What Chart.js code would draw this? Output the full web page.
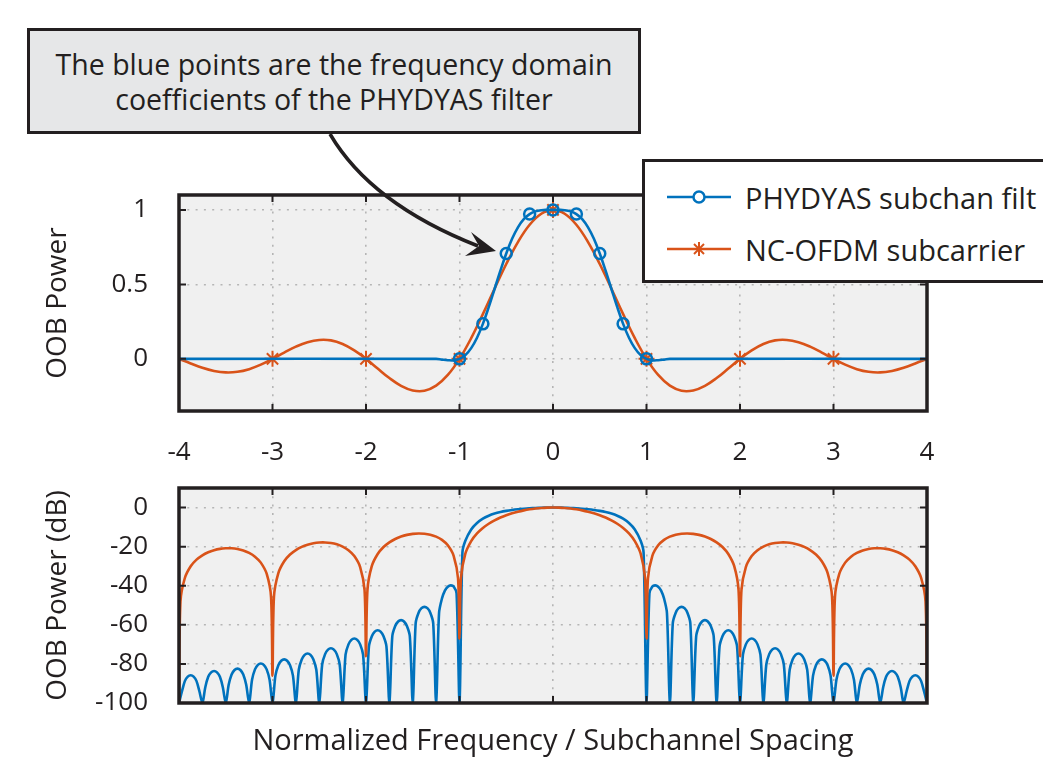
<!DOCTYPE html>
<html>
<head>
<meta charset="utf-8">
<script src="https://cdn.jsdelivr.net/npm/chart.js@4.4.0/dist/chart.umd.min.js"></script>
<style>
  body { margin: 0; background: #fff; }
  #page { position: relative; width: 1043px; height: 761px; overflow: hidden; font-family: "Open Sans", sans-serif; color: #231f20; }
  canvas { position: absolute; left: 0; }
  #cTop { top: 0; }
  #cDb { top: 470px; }
  .note { position: absolute; left: 27px; top: 28px; width: 608px; height: 84px; border: 3px solid #231f20;
          background: #e6e7e8; text-align: center; font-size: 28.5px; line-height: 35px; padding-top: 16px; }
  .legend { position: absolute; left: 642px; top: 159px; width: 420px; height: 118px; border: 3px solid #231f20; background: #fff; }
  .legend .row { position: absolute; left: 0; height: 40px; display: flex; align-items: center; font-size: 29px; white-space: nowrap; }
  .legend svg { margin-left: 22px; margin-right: 14px; flex: none; }
  #arrow { position: absolute; left: 0; top: 0; pointer-events: none; }
</style>
</head>
<body>
<div id="page">
  <canvas id="cTop" width="1043" height="470"></canvas>
  <canvas id="cDb" width="1043" height="291"></canvas>
  <div class="note">The blue points are the frequency domain<br>coefficients of the PHYDYAS filter</div>
  <div class="legend">
    <div class="row" style="top:15px">
      <svg width="64" height="20"><line x1="0" y1="10" x2="64" y2="10" stroke="#0072BD" stroke-width="2.5"/><circle cx="32" cy="10" r="5.5" fill="#fff" stroke="#0072BD" stroke-width="2.5"/></svg>
      <span>PHYDYAS subchan filt</span>
    </div>
    <div class="row" style="top:67px">
      <svg width="64" height="20"><line x1="0" y1="10" x2="64" y2="10" stroke="#D95319" stroke-width="2.5"/>
        <g stroke="#D95319" stroke-width="2"><line x1="25" y1="10" x2="39" y2="10"/><line x1="32" y1="3" x2="32" y2="17"/><line x1="27" y1="5" x2="37" y2="15"/><line x1="37" y1="5" x2="27" y2="15"/></g></svg>
      <span>NC-OFDM subcarrier</span>
    </div>
  </div>
  <svg id="arrow" width="1043" height="761">
    <path d="M330 134 Q371 204 478 246" fill="none" stroke="#231f20" stroke-width="3.5"/>
    <polygon points="496,251 471,232 479,246 465,256" fill="#231f20"/>
  </svg>
</div>
<script>
// ---------- axis ticks ----------
const xTicks = [-4, -3, -2, -1, 0, 1, 2, 3, 4];
const linTicks = [0, 0.5, 1];
const dbTicks = [-100, -80, -60, -40, -20, 0];

// x grids (samples per unit)
function grid(from, to, perUnit) {
  const out = [];
  for (let i = Math.round(from * perUnit); i <= Math.round(to * perUnit); i++) out.push(i / perUnit);
  return out;
}

// ---------- top panel: OOB power (linear) ----------
const ofdmLinX = grid(-4, 4, 8);
const ofdmLinY = [
  0, -0.031, -0.060, -0.081, -0.091, -0.087, -0.069, -0.039,
  0, 0.042, 0.082, 0.112, 0.127, 0.124, 0.100, 0.057,
  0, -0.065, -0.129, -0.181, -0.212, -0.214, -0.180, -0.108,
  0, 0.139, 0.300, 0.471, 0.637, 0.784, 0.900, 0.974,
  1,
  0.974, 0.900, 0.784, 0.637, 0.471, 0.300, 0.139, 0,
  -0.108, -0.180, -0.214, -0.212, -0.181, -0.129, -0.065, 0,
  0.057, 0.100, 0.124, 0.127, 0.112, 0.082, 0.042, 0,
  -0.039, -0.069, -0.087, -0.091, -0.081, -0.060, -0.031, 0
];
const phyLinX = [-4, ...grid(-1.25, 1.25, 16), 4];
const phyLinY = [
  0,
  0, -0.005, -0.009, -0.010, 0, 0.025, 0.072, 0.142, 0.235, 0.347, 0.469, 0.592, 0.707, 0.806, 0.883, 0.938, 0.972, 0.990, 0.998, 1.000,
  1,
  1.000, 0.998, 0.990, 0.972, 0.938, 0.883, 0.806, 0.707, 0.592, 0.469, 0.347, 0.235, 0.142, 0.072, 0.025, 0, -0.010, -0.009, -0.005, 0,
  0
];
// marker positions: filter coefficients / subcarrier zero crossings
const phyMarkX = [-1, -0.75, -0.5, -0.25, 0, 0.25, 0.5, 0.75, 1];
const ofdmMarkX = [-3, -2, -1, 0, 1, 2, 3];

// ---------- bottom panel: OOB power (dB) ----------
const ofdmDbX = grid(-4, 4, 16);
const ofdmDbY = [
  -100, -36.04, -30.05, -26.67, -24.43, -22.88, -21.82, -21.15, -20.83, -20.84, -21.20, -21.95, -23.19, -25.12, -28.18, -33.86,
  -86, -33.50, -27.46, -24.03, -21.74, -20.13, -19.01, -18.29, -17.90, -17.85, -18.15, -18.83, -20.00, -21.85, -24.83, -30.43,
  -76, -29.88, -23.75, -20.21, -17.81, -16.09, -14.85, -13.99, -13.47, -13.26, -13.40, -13.91, -14.89, -16.54, -19.31, -24.67,
  -67, -23.58, -17.13, -13.25, -10.46, -8.29, -6.55, -5.11, -3.92, -2.93, -2.11, -1.44, -0.91, -0.51, -0.22, -0.06,
  0,
  -0.06, -0.22, -0.51, -0.91, -1.44, -2.11, -2.93, -3.92, -5.11, -6.55, -8.29, -10.46, -13.25, -17.13, -23.58, -67,
  -24.67, -19.31, -16.54, -14.89, -13.91, -13.40, -13.26, -13.47, -13.99, -14.85, -16.09, -17.81, -20.21, -23.75, -29.88, -76,
  -30.43, -24.83, -21.85, -20.00, -18.83, -18.15, -17.85, -17.90, -18.29, -19.01, -20.13, -21.74, -24.03, -27.46, -33.50, -86,
  -33.86, -28.18, -25.12, -23.19, -21.95, -21.20, -20.84, -20.83, -21.15, -21.82, -22.88, -24.43, -26.67, -30.05, -36.04, -100
];
// extra samples right beside the subcarrier nulls (keeps the dips narrow)
const ofdmNearNullX = [-3.984375, -3.015625, -2.984375, -2.015625, -1.984375, -1.015625, -0.984375,
                       0.984375, 1.015625, 1.984375, 2.015625, 2.984375, 3.015625, 3.984375];
const ofdmNearNullY = [-48.1, -45.7, -45.6, -42.2, -42.1, -36.3, -36.0,
                       -36.0, -36.3, -42.1, -42.2, -45.6, -45.7, -48.1];

const phyDbX = [...grid(-4, -1, 32), -0.96875, ...grid(-0.9375, 0.9375, 16), 0.96875, ...grid(1, 4, 32)];
const phyDbY = [
  -100, -94.1, -88.8, -86.5, -85.8, -86.5, -88.8, -94.1,
  -100, -91.9, -86.6, -84.3, -83.6, -84.3, -86.6, -91.9,
  -100, -90.7, -85.4, -83.1, -82.4, -83.1, -85.4, -90.7,
  -100, -88.1, -82.8, -80.5, -79.8, -80.5, -82.8, -88.1,
  -100, -86.0, -80.7, -78.4, -77.7, -78.4, -80.7, -86.0,
  -100, -83.0, -77.7, -75.4, -74.7, -75.4, -77.7, -83.0,
  -100, -80.3, -75.0, -72.7, -72.0, -72.7, -75.0, -80.3,
  -100, -75.3, -70.0, -67.7, -67.0, -67.7, -70.0, -75.3,
  -100, -71.1, -65.8, -63.5, -62.8, -63.5, -65.8, -71.1,
  -100, -65.9, -60.6, -58.3, -57.6, -58.3, -60.6, -65.9,
  -100, -59.1, -53.8, -51.5, -50.8, -51.5, -53.8, -59.1,
  -100, -54.0, -46.5, -42.5, -40.5, -39.8, -40.4, -44.0,
  -100,
  -23.0, -17.0, -11.2, -7.9, -5.7, -4.2, -3.1, -2.3, -1.7, -1.25, -0.9, -0.62, -0.4, -0.22, -0.1, -0.03,
  0,
  -0.03, -0.1, -0.22, -0.4, -0.62, -0.9, -1.25, -1.7, -2.3, -3.1, -4.2, -5.7, -7.9, -11.2, -17.0, -23.0,
  -100,
  -44.0, -40.4, -39.8, -40.5, -42.5, -46.5, -54.0, -100,
  -59.1, -53.8, -51.5, -50.8, -51.5, -53.8, -59.1, -100,
  -65.9, -60.6, -58.3, -57.6, -58.3, -60.6, -65.9, -100,
  -71.1, -65.8, -63.5, -62.8, -63.5, -65.8, -71.1, -100,
  -75.3, -70.0, -67.7, -67.0, -67.7, -70.0, -75.3, -100,
  -80.3, -75.0, -72.7, -72.0, -72.7, -75.0, -80.3, -100,
  -83.0, -77.7, -75.4, -74.7, -75.4, -77.7, -83.0, -100,
  -86.0, -80.7, -78.4, -77.7, -78.4, -80.7, -86.0, -100,
  -88.1, -82.8, -80.5, -79.8, -80.5, -82.8, -88.1, -100,
  -90.7, -85.4, -83.1, -82.4, -83.1, -85.4, -90.7, -100,
  -91.9, -86.6, -84.3, -83.6, -84.3, -86.6, -91.9, -100,
  -94.1, -88.8, -86.5, -85.8, -86.5, -88.8, -94.1, -100
];

// ---------- styles ----------
const BLUE = "#0072BD";
const ORANGE = "#D95319";
const INK = "#231f20";
const FONT = "'Open Sans', sans-serif";

const pts = (xs, ys) => xs.map((x, i) => ({ x, y: ys[i] }));
const byX = (a, b) => a.x - b.x;

// plot box: gray background, black frame and inward tick marks
const frame = {
  id: "frame",
  beforeDraw(chart) {
    const { ctx, chartArea: a } = chart;
    ctx.save();
    ctx.fillStyle = "#f0f0f0";
    ctx.fillRect(a.left, a.top, a.right - a.left, a.bottom - a.top);
    ctx.restore();
  },
  afterDatasetsDraw(chart) {
    const { ctx, chartArea: a, scales } = chart;
    ctx.save();
    ctx.strokeStyle = INK;
    ctx.lineWidth = 2;
    ctx.beginPath();
    scales.x.ticks.forEach(t => {
      const px = scales.x.getPixelForValue(t.value);
      ctx.moveTo(px, a.bottom); ctx.lineTo(px, a.bottom - 7);
      ctx.moveTo(px, a.top); ctx.lineTo(px, a.top + 7);
    });
    scales.y.ticks.forEach(t => {
      const py = scales.y.getPixelForValue(t.value);
      ctx.moveTo(a.left, py); ctx.lineTo(a.left + 7, py);
      ctx.moveTo(a.right, py); ctx.lineTo(a.right - 7, py);
    });
    ctx.stroke();
    ctx.lineWidth = 3.5;
    ctx.strokeRect(a.left, a.top, a.right - a.left, a.bottom - a.top);
    ctx.restore();
  }
};

const gridStyle = { color: "#b5b5b5", lineWidth: 1.6, drawTicks: false };
const dotted = { display: false, dash: [2, 6.3] };
const tickFont = { family: FONT, size: 26 };

function yAxis(min, max, tickVals, title) {
  return {
    min, max,
    afterBuildTicks: s => { s.ticks = tickVals.map(v => ({ value: v })); },
    // fixed axis width, and no extra label padding pushing the plot box down
    afterFit: s => { s.width = 179; s.paddingTop = 0; s.paddingBottom = 0; },
    grid: gridStyle, border: dotted,
    ticks: { padding: 31, color: INK, font: tickFont, callback: v => String(v) },
    title: { display: true, text: title, color: INK, font: { family: FONT, size: 28 }, padding: { top: 41 } }
  };
}

// ---------- top chart ----------
new Chart(document.getElementById("cTop"), {
  type: "line",
  data: {
    datasets: [
      {
        label: "PHYDYAS subchan filt",
        data: pts(phyLinX, phyLinY),
        borderColor: BLUE, borderWidth: 2.6, tension: 0.4,
        pointStyle: "circle",
        pointRadius: c => phyMarkX.includes(phyLinX[c.dataIndex]) ? 5.5 : 0,
        pointBorderColor: BLUE, pointBorderWidth: 2.5, pointBackgroundColor: "rgba(240,240,240,0)"
      },
      {
        label: "NC-OFDM subcarrier",
        data: pts(ofdmLinX, ofdmLinY),
        borderColor: ORANGE, borderWidth: 2.6, tension: 0.4,
        pointStyle: "star",
        pointRadius: c => ofdmMarkX.includes(ofdmLinX[c.dataIndex]) ? 8 : 0,
        pointBorderColor: ORANGE, pointBorderWidth: 2
      }
    ]
  },
  options: {
    responsive: false,
    animation: false,
    events: [],
    layout: { padding: { left: 0, right: 116, top: 195, bottom: 0 } },
    plugins: { legend: { display: false }, tooltip: { enabled: false } },
    scales: {
      x: {
        type: "linear", min: -4, max: 4,
        afterBuildTicks: s => { s.ticks = xTicks.map(v => ({ value: v })); },
        afterFit: s => { s.height = 59; },
        grid: gridStyle, border: dotted,
        ticks: { padding: 26, color: INK, font: tickFont, maxRotation: 0 }
      },
      y: yAxis(-0.35, 1.1, linTicks, "OOB Power")
    }
  },
  plugins: [frame]
});

// ---------- bottom chart ----------
new Chart(document.getElementById("cDb"), {
  type: "line",
  data: {
    datasets: [
      {
        label: "NC-OFDM subcarrier",
        data: pts(ofdmDbX, ofdmDbY).concat(pts(ofdmNearNullX, ofdmNearNullY)).sort(byX),
        borderColor: ORANGE, borderWidth: 2.6, tension: 0.3, pointRadius: 0
      },
      {
        label: "PHYDYAS subchan filt",
        data: pts(phyDbX, phyDbY),
        borderColor: BLUE, borderWidth: 2.6, tension: 0.3, pointRadius: 0
      }
    ]
  },
  options: {
    responsive: false,
    animation: false,
    events: [],
    layout: { padding: { left: 0, right: 116, top: 18, bottom: 0 } },
    plugins: { legend: { display: false }, tooltip: { enabled: false } },
    scales: {
      x: {
        type: "linear", min: -4, max: 4,
        afterBuildTicks: s => { s.ticks = xTicks.map(v => ({ value: v })); },
        afterFit: s => { s.height = 58; },
        grid: gridStyle, border: dotted,
        ticks: { display: false },
        title: { display: true, text: "Normalized Frequency / Subchannel Spacing", color: INK,
                 font: { family: FONT, size: 29 }, padding: { top: 0, bottom: 2 } }
      },
      y: yAxis(-100, 10, dbTicks, "OOB Power (dB)")
    }
  },
  plugins: [frame]
});
</script>
</body>
</html>
